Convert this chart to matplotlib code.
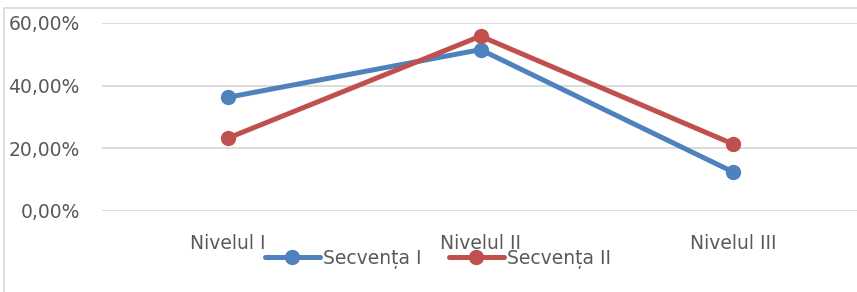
import matplotlib
matplotlib.use("Agg")
import matplotlib.pyplot as plt
from matplotlib.patches import Rectangle
from matplotlib.ticker import FuncFormatter

categories = ["Nivelul I", "Nivelul II", "Nivelul III"]
secventa_1 = [36.3, 51.5, 12.5]
secventa_2 = [23.3, 55.8, 21.4]
series_names = ["Secvența I", "Secvența II"]
y_ticks = [0, 20, 40, 60]

plt.rcParams['font.family'] = ['DejaVu Sans']

W, H = 857, 292
fig = plt.figure(figsize=(W / 100, H / 100), dpi=100)

# chart frame
fig.patches.append(Rectangle((4 / W, -0.1), 1.2, 1 - 8 / H + 0.1, transform=fig.transFigure,
                             fill=False, edgecolor='#D9D9D9', linewidth=1.2, clip_on=False))

ax = fig.add_axes([102 / W, (H - 211) / H, 757 / W, 188 / H])
x = list(range(len(categories)))
blue, red = '#4F81BD', '#C0504D'
ax.plot(x, secventa_1, color=blue, linewidth=3.6, marker='o', markersize=10,
        label=series_names[0], solid_capstyle='round', zorder=3)
ax.plot(x, secventa_2, color=red, linewidth=3.6, marker='o', markersize=10,
        label=series_names[1], solid_capstyle='round', zorder=4)

ax.set_xlim(-0.5, 2.5)
ax.set_ylim(0, 60)
ax.set_yticks(y_ticks)
ax.yaxis.set_major_formatter(FuncFormatter(lambda v, p: f"{v:.2f}%".replace('.', ',')))
ax.set_xticks(x)
ax.set_xticklabels(categories)
ax.grid(axis='y', color='#D9D9D9', linewidth=1.3)
ax.set_axisbelow(True)
for s in ax.spines.values():
    s.set_visible(False)
ax.tick_params(axis='both', length=0, labelsize=13.5, labelcolor='#595959')
ax.tick_params(axis='y', pad=16)
ax.tick_params(axis='x', pad=16.5)

fig.legend(loc='center', bbox_to_anchor=(438 / W, 1 - 259 / H), ncol=2, frameon=False,
           fontsize=13.5, handlelength=2.9, handletextpad=0.16, columnspacing=1.5,
           labelcolor='#595959', borderpad=0)

fig.savefig("out.png", dpi=100)
